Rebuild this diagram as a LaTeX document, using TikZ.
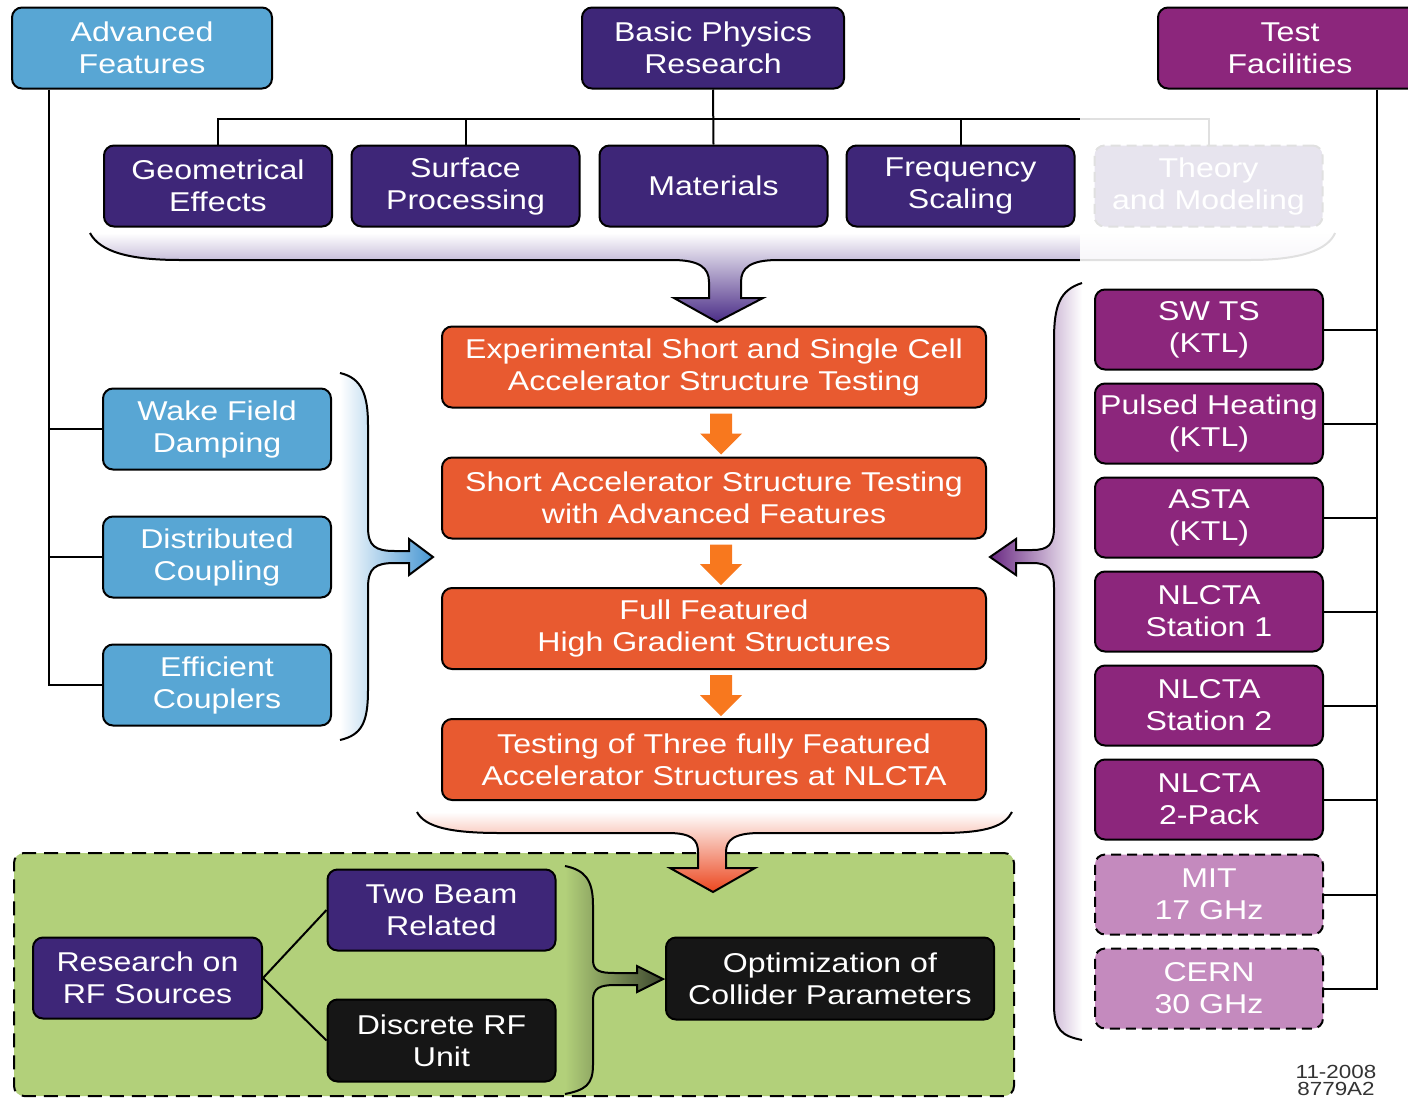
\documentclass[tikz,border=0pt]{standalone}
\usepackage{fontspec}
\setmainfont[FakeStretch=1.18]{Liberation Sans}
\usetikzlibrary{calc}
\definecolor{afblue}{RGB}{88,166,212}
\definecolor{dpurp}{RGB}{62,38,120}
\definecolor{mag}{RGB}{140,38,124}
\definecolor{lmag}{RGB}{196,138,190}
\definecolor{oboxc}{RGB}{232,90,48}
\definecolor{oarr}{RGB}{248,120,30}
\definecolor{gbg}{RGB}{178,208,122}
\definecolor{blk}{RGB}{22,22,22}
\definecolor{tpurp}{RGB}{75,45,135}
\definecolor{lblue}{RGB}{70,150,210}
\definecolor{rpurp}{RGB}{105,40,130}
\definecolor{bred}{RGB}{235,70,30}
\definecolor{gdark}{RGB}{60,70,45}
\newcommand{\BoxFont}{\fontsize{13.6}{16}\selectfont}
\newcommand{\OrArrow}[2]{%
  \fill[oarr] ($(#1.south)+(-4,5)$) -- ($(#2.north)+(-4,-23)$) -- ($(#2.north)+(-14,-23)$)
   -- ($(#2.north)+(7,-2)$) -- ($(#2.north)+(28,-23)$) -- ($(#2.north)+(18,-23)$)
   -- ($(#1.south)+(18,5)$) -- cycle;}
\begin{document}
\begin{tikzpicture}[x=0.5pt,y=-0.5pt,
 box/.style={draw=black,line width=1pt,rounded corners=5pt,text=white,align=center,inner sep=0pt,font=\BoxFont},
 ab/.style={box,fill=afblue,minimum width=114pt,minimum height=40.5pt},
 pb/.style={box,fill=dpurp,minimum width=114pt,minimum height=40.5pt},
 mb/.style={box,fill=mag,minimum width=114pt,minimum height=40pt},
 lmb/.style={box,fill=lmag,dash pattern=on 5pt off 3pt,minimum width=114pt,minimum height=40pt},
 ob/.style={box,fill=oboxc,minimum width=272pt,minimum height=40.5pt},
 kb/.style={box,fill=blk,minimum width=114pt,minimum height=40.5pt},
 conn/.style={draw=black,line width=1pt},
 brace/.style={draw=black,line width=1pt}
]
\useasboundingbox (0,0) rectangle (1408,1098);
\clip (0,0) rectangle (1408,1098);

% green region
\node[draw=black,line width=1pt,dash pattern=on 7pt off 4pt,fill=gbg,rounded corners=5pt,
      minimum width=500pt,minimum height=121.5pt,inner sep=0pt] (GR) at (514,974.5) {};

% top row
\node[ab,minimum width=130pt] (AF) at (142,48) {Advanced\\Features};
\node[pb,minimum width=131pt] (BPR) at (713,48) {Basic Physics\\Research};
\node[box,fill=mag,minimum width=132pt,minimum height=40.5pt] (TF) at (1290,48) {Test\\Facilities};

% second row
\node[pb] (GE) at (218,186) {Geometrical\\Effects};
\node[pb] (SP) at (465.5,186) {Surface\\Processing};
\node[pb] (MAT) at (713.5,186) {Materials};
\node[pb] (FS) at (960.5,186) {Frequency\\Scaling};
\node[pb,dash pattern=on 5pt off 3pt] (TM) at (1208.5,186) {Theory\\and Modeling};

% orange column
\node[ob] (E1) at (714,367) {Experimental Short and Single Cell\\Accelerator Structure Testing};
\node[ob] (E2) at (714,498) {Short Accelerator Structure Testing\\with Advanced Features};
\node[ob] (E3) at (714,628.5) {Full Featured\\High Gradient Structures};
\node[ob] (E4) at (714,759.5) {Testing of Three fully Featured\\Accelerator Structures at NLCTA};

% blue column
\node[ab] (WFD) at (217,429) {Wake Field\\Damping};
\node[ab] (DC) at (217,557) {Distributed\\Coupling};
\node[ab] (EC) at (217,685) {Efficient\\Couplers};

% facilities column
\node[mb] (SW) at (1209,329.5) {SW TS\\(KTL)};
\node[mb] (PH) at (1209,423.5) {Pulsed Heating\\(KTL)};
\node[mb] (ASTA) at (1209,517.5) {ASTA\\(KTL)};
\node[mb] (N1) at (1209,611.5) {NLCTA\\Station 1};
\node[mb] (N2) at (1209,705.5) {NLCTA\\Station 2};
\node[mb] (NP) at (1209,799.5) {NLCTA\\2-Pack};
\node[lmb] (MIT) at (1209,894.5) {MIT\\17 GHz};
\node[lmb] (CERN) at (1209,988.5) {CERN\\30 GHz};

% green content
\node[pb,minimum width=114.5pt] (RF) at (147.5,978) {Research on\\RF Sources};
\node[pb] (TB) at (441.5,910) {Two Beam\\Related};
\node[kb,minimum height=41pt] (DU) at (441.5,1040.5) {Discrete RF\\Unit};
\node[kb,minimum width=164pt,minimum height=41pt] (OPT) at (830,978.5) {Optimization of\\Collider Parameters};

% connectors
\coordinate (AFt) at (49,0);
\draw[conn] (AFt |- AF.south) -- (AFt |- EC.west) -- (EC.west);
\draw[conn] (AFt |- WFD.west) -- (WFD.west);
\draw[conn] (AFt |- DC.west) -- (DC.west);

\coordinate (bus) at (0,119);
\draw[conn] (BPR.south) -- (MAT.north);
\draw[conn] (GE.north) -- (GE.north |- bus) -- (TM.north |- bus) -- (TM.north);
\draw[conn] (SP.north) -- (SP.north |- bus);
\draw[conn] (FS.north) -- (FS.north |- bus);

\coordinate (TFt) at (1377,0);
\draw[conn] (TFt |- TF.south) -- (TFt |- CERN.east) -- (CERN.east);
\foreach \n in {SW,PH,ASTA,N1,N2,NP,MIT} \draw[conn] (\n.east) -- (\n.east -| TFt);

\draw[conn] (RF.east) -- (TB.west);
\draw[conn] (RF.east) -- (DU.west);

% orange arrows
\OrArrow{E1}{E2}
\OrArrow{E2}{E3}
\OrArrow{E3}{E4}

% braces
\draw[brace,top color=white,bottom color=tpurp] (90,233) .. controls (100,252) and (130,260) .. (180,260) -- (672,260) .. controls (700,260) and (709,268) .. (709,282) -- (709,298) -- (674,298) -- (717,322) -- (763,298) -- (741,298) -- (741,282) .. controls (741,268) and (750,260) .. (778,260) -- (1250,260) .. controls (1300,260) and (1328,250) .. (1335,233);

\draw[brace,left color=white,right color=lblue] (340,373) .. controls (362,378) and (368,395) .. (368,425) -- (368,527) .. controls (368,546) and (375,551) .. (395,551) -- (409,551) -- (409,539) -- (433,557) -- (409,575) -- (409,563) -- (395,563) .. controls (375,563) and (368,568) .. (368,588) -- (368,690) .. controls (368,722) and (362,735) .. (340,740);

\draw[brace,left color=rpurp,right color=white] (1082,283) .. controls (1060,290) and (1054,305) .. (1054,340) -- (1054,527) .. controls (1054,545) and (1048,550) .. (1032,550) -- (1016,550) -- (1016,539) -- (990,557) -- (1016,575) -- (1016,563) -- (1032,563) .. controls (1048,563) and (1054,568) .. (1054,588) -- (1054,1005) .. controls (1054,1030) and (1062,1036) .. (1082,1040);

\draw[brace,top color=white,bottom color=bred] (417,812) .. controls (425,827) and (450,833) .. (500,833) -- (668,833) .. controls (692,833) and (698,840) .. (698,852) -- (698,868) -- (670,868) -- (713,892) -- (755,868) -- (726,868) -- (726,852) .. controls (726,840) and (734,833) .. (760,833) -- (940,833) .. controls (990,833) and (1005,825) .. (1012,812);

\draw[brace,left color=gbg,right color=gdark] (565,866) .. controls (585,870) and (593,880) .. (593,905) -- (593,960) .. controls (593,971) and (600,973) .. (615,973) -- (637,973) -- (637,966) -- (663,979) -- (637,992) -- (637,985) -- (615,985) .. controls (600,985) and (593,988) .. (593,1000) -- (593,1065) .. controls (593,1085) and (585,1090) .. (565,1094);

% faded region
\fill[white,opacity=0.88] (1080,112) rectangle (1345,268);

% label
\node[text=black!80,align=center,font=\fontsize{9.5}{8.5}\selectfont,anchor=south,inner sep=0pt] (lbl) at (1336,1096) {11-2008\\8779A2};
\end{tikzpicture}
\end{document}
